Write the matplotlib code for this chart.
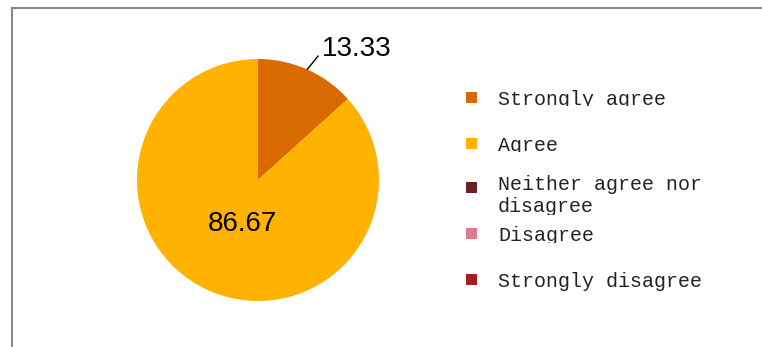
import numpy as np
import matplotlib
matplotlib.use('Agg')
import matplotlib.pyplot as plt
from matplotlib.lines import Line2D
from matplotlib.patches import Rectangle

# Survey answers (percent)
categories = ['Strongly agree', 'Agree', 'Neither agree nor\ndisagree',
              'Disagree', 'Strongly disagree']
values = [13.33, 86.67, 0, 0, 0]
colors = ['#D96A00', '#FFB300', '#6B2222', '#E07A8A', '#A51E22']

W, H = 762, 347
dpi = 100
fig = plt.figure(figsize=(W / dpi, H / dpi), dpi=dpi)

def px(x, y):
    """pixel position (from top-left) -> figure fraction"""
    return x / W, 1 - y / H

# frame lines on top and left
fig.add_artist(Line2D([12 / W, 761 / W], [1 - 8 / H, 1 - 8 / H],
                      color='#888888', lw=1.5, transform=fig.transFigure))
fig.add_artist(Line2D([12 / W, 12 / W], [1 - 8 / H, 0],
                      color='#888888', lw=1.5, transform=fig.transFigure))

# pie: centre (258, 180), radius 121 px
cx, cy, r = 258, 180, 121
ax = fig.add_axes([(cx - r) / W, 1 - (cy + r) / H, 2 * r / W, 2 * r / H])
nz = [(v, c) for v, c in zip(values, colors) if v > 0]
wedges, _ = ax.pie([v for v, _ in nz], colors=[c for _, c in nz],
                   startangle=90, counterclock=False, radius=1,
                   wedgeprops=dict(linewidth=0))
ax.set_xlim(-1, 1)
ax.set_ylim(-1, 1)
ax.set_aspect('equal')
ax.axis('off')

# value labels
for w, (v, c) in zip(wedges, nz):
    mid = np.deg2rad((w.theta1 + w.theta2) / 2)
    x, y = np.cos(mid), np.sin(mid)
    if v < 50:
        # outside label with a short leader line
        ax.annotate('', xy=(x, y), xytext=(11, 13.5), textcoords='offset pixels',
                    arrowprops=dict(arrowstyle='-', color='black', lw=1,
                                    shrinkA=0, shrinkB=0),
                    annotation_clip=False)
        ax.annotate(f'{v:.2f}', xy=(x, y), xytext=(15, 13.5),
                    textcoords='offset pixels', fontsize=20, ha='left',
                    va='baseline', family='Liberation Sans',
                    annotation_clip=False)
    else:
        ax.annotate(f'{v:.2f}', xy=(0.4 * x, 0.4 * y), xytext=(4, 0),
                    textcoords='offset pixels', fontsize=20, ha='center',
                    va='center', family='Liberation Sans')

# legend: markers on the left, labels cut off at the bottom of their row
lx, sq = 466, 11
marker_top = [92, 138, 182, 228, 274]
text_dy = [1, 1, -4, 1, 1]
row_height = [14, 14, 33, 15, None]
for lab, c, top, dy, rh in zip(categories, colors, marker_top, text_dy, row_height):
    x0, y0 = px(lx, top + sq)
    fig.add_artist(Rectangle((x0, y0), sq / W, sq / H, facecolor=c,
                             edgecolor='none', transform=fig.transFigure))
    tx, ty = px(498, top + dy - 3)
    t = fig.text(tx, ty, lab, fontsize=14.4, family='Liberation Mono',
                 ha='left', va='top', color='#222222', linespacing=1.2)
    if rh is not None:
        cx0, cy0 = px(490, top + rh)
        clip = Rectangle((cx0, cy0), 260 / W, (rh + 20) / H,
                         transform=fig.transFigure, facecolor='none')
        t.set_clip_path(clip)

fig.savefig('out.png', dpi=dpi, facecolor='white')
